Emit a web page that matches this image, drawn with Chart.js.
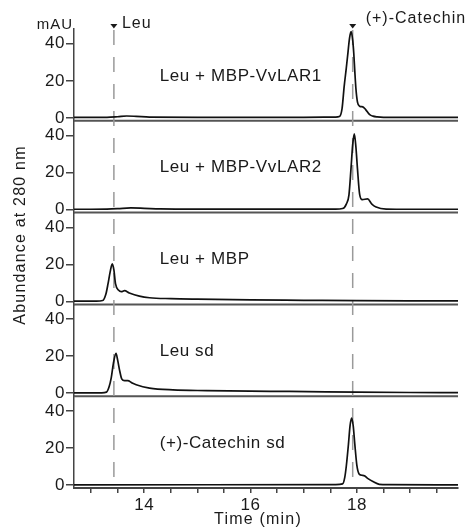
<!DOCTYPE html>
<html lang="en">
<head>
    <meta charset="UTF-8">
    <title>Chromatograms at 280 nm</title>
    <script src="https://cdnjs.cloudflare.com/ajax/libs/Chart.js/4.4.1/chart.umd.min.js"></script>
    <style>
        body {
            margin: 0;
            background: #fff;
        }
        #chart {
            display: block;
        }
    </style>
</head>
<body>
    <canvas id="chart" width="470" height="529"></canvas>

    <script>
        // axis ticks
        const xTicks = [13, 13.5, 14, 14.5, 15, 15.5, 16, 16.5, 17, 17.5, 18, 18.5, 19, 19.5];
        const xLabelled = [14, 16, 18];
        const yTicks = [0, 20, 40];

        // panel names, top to bottom
        const panelNames = ['Leu + MBP-VvLAR1', 'Leu + MBP-VvLAR2', 'Leu + MBP', 'Leu sd', '(+)-Catechin sd'];

        // retention time markers
        const markerTimes = [13.43, 17.92];
        const markerNames = ['Leu', '(+)-Catechin'];

        // traces (time in min, abundance in mAU)
        const lar1Time = [12.68, 13.3, 13.5, 13.67, 13.85, 14.1, 15, 16, 17, 17.6, 17.67, 17.72, 17.76, 17.8, 17.83, 17.86, 17.89, 17.92, 17.94, 17.96, 17.98, 18.01, 18.05, 18.11, 18.16, 18.24, 18.3, 18.38, 18.5, 19, 19.9];
        const lar1Abs = [0.3, 0.3, 0.6, 1.0, 0.8, 0.4, 0.3, 0.3, 0.3, 0.4, 0.7, 5, 17, 27, 35, 43, 46.6, 42, 35, 25, 16, 8.5, 6.3, 5.9, 4.6, 1.7, 0.9, 0.5, 0.3, 0.3, 0.3];

        const lar2Time = [12.68, 13.3, 13.5, 13.75, 14.0, 14.3, 15, 16, 17, 17.6, 17.73, 17.8, 17.85, 17.89, 17.92, 17.95, 17.98, 18.01, 18.05, 18.1, 18.2, 18.28, 18.36, 18.55, 19, 19.9];
        const lar2Abs = [0.2, 0.3, 0.5, 0.9, 0.7, 0.4, 0.3, 0.3, 0.3, 0.3, 0.6, 3, 8, 23, 35, 40.9, 34, 22, 8.4, 5.4, 5.8, 3, 1.4, 0.3, 0.2, 0.2];

        const mbpTime = [12.68, 13.1, 13.22, 13.28, 13.32, 13.36, 13.4, 13.43, 13.46, 13.52, 13.57, 13.63, 13.72, 13.91, 14.1, 14.5, 15, 16, 17, 18, 19, 19.9];
        const mbpAbs = [0.2, 0.2, 0.5, 4, 9.6, 16, 20.3, 17, 9.6, 6.0, 5.3, 5.8, 4.6, 2.9, 2.0, 1.5, 1.2, 0.8, 0.6, 0.4, 0.3, 0.3];

        const leuTime = [12.68, 13.2, 13.29, 13.34, 13.38, 13.42, 13.47, 13.5, 13.54, 13.58, 13.63, 13.69, 13.77, 13.85, 14.1, 14.54, 15.17, 16, 16.73, 18, 19, 19.9];
        const leuAbs = [0.2, 0.2, 0.6, 3.5, 8.3, 16, 21.5, 18, 12, 7.6, 6.8, 6.8, 5.6, 4.6, 2.8, 1.8, 1.4, 1.1, 1.0, 0.6, 0.4, 0.3];

        const catTime = [12.68, 17.6, 17.73, 17.77, 17.8, 17.84, 17.87, 17.9, 17.93, 17.96, 18.0, 18.04, 18.09, 18.14, 18.2, 18.3, 18.42, 18.6, 19.9];
        const catAbs = [0.1, 0.2, 0.6, 4, 10.3, 22, 32, 36.2, 32, 22, 10.3, 6.0, 5.3, 5, 3.6, 1.9, 0.4, 0.2, 0.1];

        const traces = [
            [lar1Time, lar1Abs],
            [lar2Time, lar2Abs],
            [mbpTime, mbpAbs],
            [leuTime, leuAbs],
            [catTime, catAbs]
        ];

        const FONT = '"Liberation Sans", Arial, sans-serif';
        const INK = '#1a1a1a';
        const AXIS = '#444';

        // one y axis per panel, stacked on the left
        const scales = {
            x: {
                type: 'linear',
                position: 'bottom',
                min: 12.68,
                max: 19.9,
                border: { color: AXIS, width: 2 },
                grid: { drawOnChartArea: false, tickLength: 5, color: AXIS, lineWidth: 1.5 },
                afterBuildTicks: s => { s.ticks = xTicks.map(v => ({ value: v })); },
                afterFit: s => { s.height = 41; },
                ticks: {
                    autoSkip: false,
                    maxRotation: 0,
                    padding: 2,
                    color: INK,
                    font: { family: FONT, size: 17 },
                    callback: v => xLabelled.includes(v) ? String(v) : ''
                }
            }
        };
        panelNames.forEach((name, i) => {
            scales['y' + i] = {
                type: 'linear',
                position: 'left',
                stack: 'panels',
                stackWeight: 1,
                weight: panelNames.length - i,
                min: -1.6,
                max: 48,
                border: { color: AXIS, width: 1.5 },
                grid: { drawOnChartArea: false, tickLength: 8, color: AXIS, lineWidth: 1.5 },
                afterBuildTicks: s => { s.ticks = yTicks.map(v => ({ value: v })); },
                afterFit: s => { s.width = 74; },
                ticks: {
                    padding: 1,
                    color: INK,
                    font: { family: FONT, size: 17 }
                }
            };
        });

        const datasets = traces.map(([t, a], i) => ({
            label: panelNames[i],
            data: t.map((x, k) => ({ x: x, y: a[k] })),
            yAxisID: 'y' + i,
            borderColor: '#111',
            borderWidth: 1.7,
            pointRadius: 0,
            cubicInterpolationMode: 'monotone',
            fill: false
        }));

        // separators, dashed markers and all the free text
        const annotate = {
            id: 'annotate',
            beforeDraw(chart) {
                chart.ctx.letterSpacing = '0.6px';
            },
            beforeDatasetsDraw(chart) {
                const { ctx, chartArea, scales } = chart;
                ctx.save();
                ctx.strokeStyle = '#555';
                ctx.lineWidth = 2;
                for (let i = 0; i < panelNames.length - 1; i++) {
                    const y = scales['y' + i].bottom;
                    ctx.beginPath();
                    ctx.moveTo(chartArea.left, y);
                    ctx.lineTo(chartArea.right, y);
                    ctx.stroke();
                }
                ctx.strokeStyle = '#9a9a9a';
                ctx.lineWidth = 1.5;
                ctx.setLineDash([15, 12]);
                markerTimes.forEach(t => {
                    const x = scales.x.getPixelForValue(t);
                    ctx.beginPath();
                    ctx.moveTo(x, chartArea.top + 1);
                    ctx.lineTo(x, chartArea.bottom);
                    ctx.stroke();
                });
                ctx.restore();
            },
            afterDraw(chart) {
                const { ctx, chartArea, scales } = chart;
                ctx.save();
                ctx.fillStyle = INK;

                // triangles and marker names
                const nameOffset = [[8, 28], [13, 23]];
                ctx.font = '16px ' + FONT;
                ctx.letterSpacing = '1px';
                ctx.textBaseline = 'alphabetic';
                ctx.textAlign = 'left';
                markerTimes.forEach((t, i) => {
                    const x = scales.x.getPixelForValue(t);
                    ctx.beginPath();
                    ctx.moveTo(x - 3.5, 24);
                    ctx.lineTo(x + 3.5, 24);
                    ctx.lineTo(x, 28.5);
                    ctx.closePath();
                    ctx.fill();
                    ctx.fillText(markerNames[i], x + nameOffset[i][0], nameOffset[i][1]);
                });

                // unit above the axis
                ctx.font = '15px ' + FONT;
                ctx.textAlign = 'right';
                ctx.fillText('mAU', chartArea.left - 1, 29);

                // panel names
                ctx.font = '17px ' + FONT;
                ctx.letterSpacing = '0.6px';
                ctx.textAlign = 'left';
                ctx.textBaseline = 'middle';
                const nameX = scales.x.getPixelForValue(14.29);
                panelNames.forEach((name, i) => {
                    ctx.fillText(name, nameX, scales['y' + i].getPixelForValue(22.6));
                });

                // axis titles
                ctx.font = '16px ' + FONT;
                ctx.letterSpacing = '1.2px';
                ctx.textAlign = 'center';
                ctx.fillText('Time (min)', 258, 520);
                ctx.translate(21, 235);
                ctx.rotate(-Math.PI / 2);
                ctx.fillText('Abundance at 280 nm', 0, 0);
                ctx.restore();
                ctx.letterSpacing = '0px';
            }
        };

        new Chart(document.getElementById('chart'), {
            type: 'line',
            data: { datasets: datasets },
            options: {
                responsive: false,
                animation: false,
                devicePixelRatio: 1,
                layout: { padding: { top: 29, right: 12, left: 0, bottom: 0 } },
                plugins: {
                    legend: { display: false },
                    tooltip: { enabled: false }
                },
                scales: scales
            },
            plugins: [annotate]
        });
    </script>
</body>
</html>
